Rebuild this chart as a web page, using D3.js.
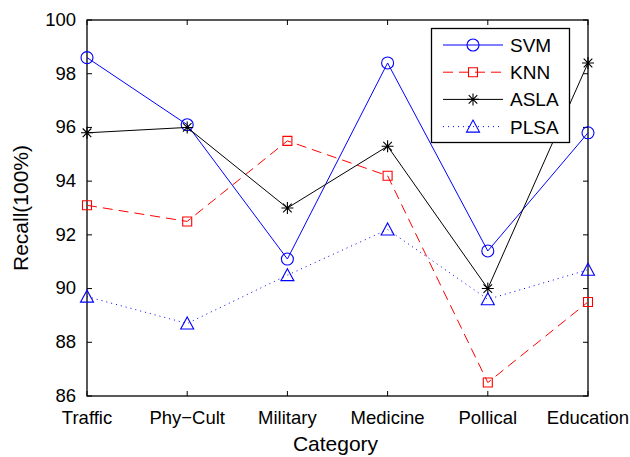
<!DOCTYPE html>
<html>
<head>
<meta charset="utf-8">
<script src="https://cdn.jsdelivr.net/npm/d3@7"></script>
<style>
  body { margin: 0; background: #fff; }
  svg { font-family: "Liberation Sans", Arial, Helvetica, sans-serif; }
</style>
</head>
<body>
<svg width="630" height="457"></svg>
<script>
  // data
  const categories = ["Traffic", "Phy\u2212Cult", "Military", "Medicine", "Pollical", "Education"];
  const svmValues  = [98.6, 96.1, 91.1, 98.4, 91.4, 95.8];
  const knnValues  = [93.1, 92.5, 95.5, 94.2, 86.5, 89.5];
  const aslaValues = [95.8, 96.0, 93.0, 95.3, 90.0, 98.4];
  const plsaValues = [89.7, 88.7, 90.5, 92.2, 89.6, 90.7];
  const yTicks = [86, 88, 90, 92, 94, 96, 98, 100];

  const svg = d3.select("svg");

  const mLeft = 87, mRight = 588, mTop = 20, mBottom = 396;

  const x = d3.scalePoint().domain(categories).range([mLeft, mRight]);
  const y = d3.scaleLinear().domain([86, 100]).range([mBottom, mTop]);

  const series = [
    { name: "SVM",  values: svmValues,  color: "#0000ff", dash: null,  marker: "circle" },
    { name: "KNN",  values: knnValues,  color: "#ff0000", dash: "10,6", marker: "square" },
    { name: "ASLA", values: aslaValues, color: "#000000", dash: null,  marker: "star" },
    { name: "PLSA", values: plsaValues, color: "#0000ff", dash: "1,4", marker: "triangle" }
  ];

  // marker shapes, centred on 0,0
  function markerPath(type) {
    if (type === "circle") return d3.arc()({ innerRadius: 0, outerRadius: 6, startAngle: 0, endAngle: 2 * Math.PI });
    if (type === "square") return "M-4.5,-4.5H4.5V4.5H-4.5Z";
    if (type === "triangle") return "M0,-6.5L6.5,5.5H-6.5Z";
    // star = plus and cross
    const r = 6, d = 4.3;
    return `M${-r},0H${r}M0,${-r}V${r}M${-d},${-d}L${d},${d}M${-d},${d}L${d},${-d}`;
  }

  const line = d3.line()
    .x((d, i) => x(categories[i]))
    .y(d => y(d));

  // axes frame
  svg.append("rect")
    .attr("x", mLeft).attr("y", mTop)
    .attr("width", mRight - mLeft).attr("height", mBottom - mTop)
    .attr("fill", "none").attr("stroke", "#000").attr("stroke-width", 1.3);

  // ticks on all four sides, pointing inward
  const tl = 5;
  yTicks.forEach(t => {
    svg.append("line").attr("x1", mLeft).attr("x2", mLeft + tl).attr("y1", y(t)).attr("y2", y(t)).attr("stroke", "#000");
    svg.append("line").attr("x1", mRight).attr("x2", mRight - tl).attr("y1", y(t)).attr("y2", y(t)).attr("stroke", "#000");
    svg.append("text")
      .attr("x", mLeft - 11).attr("y", y(t) + 1)
      .attr("text-anchor", "end").attr("dominant-baseline", "middle")
      .attr("font-size", 18.5).text(t);
  });
  categories.forEach(c => {
    svg.append("line").attr("x1", x(c)).attr("x2", x(c)).attr("y1", mBottom).attr("y2", mBottom - tl).attr("stroke", "#000");
    svg.append("line").attr("x1", x(c)).attr("x2", x(c)).attr("y1", mTop).attr("y2", mTop + tl).attr("stroke", "#000");
    svg.append("text")
      .attr("x", x(c)).attr("y", 424)
      .attr("text-anchor", "middle")
      .attr("font-size", 18.5).text(c);
  });

  // axis titles
  svg.append("text")
    .attr("x", (mLeft + mRight) / 2 - 2).attr("y", 451)
    .attr("text-anchor", "middle").attr("font-size", 21).text("Category");
  svg.append("text")
    .attr("transform", `translate(28,${(mTop + mBottom) / 2}) rotate(-90)`)
    .attr("text-anchor", "middle").attr("font-size", 21).text("Recall(100%)");

  // lines and markers
  series.forEach(s => {
    svg.append("path")
      .attr("d", line(s.values))
      .attr("fill", "none")
      .attr("stroke", s.color)
      .attr("stroke-width", 1)
      .attr("stroke-dasharray", s.dash);
    svg.selectAll(null)
      .data(s.values)
      .enter()
      .append("path")
      .attr("transform", (d, i) => `translate(${x(categories[i])},${y(d)})`)
      .attr("d", markerPath(s.marker))
      .attr("fill", "none")
      .attr("stroke", s.color)
      .attr("stroke-width", 1.1);
  });

  // legend
  const lg = svg.append("g");
  lg.append("rect")
    .attr("x", 431.5).attr("y", 28.5)
    .attr("width", 138).attr("height", 114)
    .attr("fill", "#fff").attr("stroke", "#000").attr("stroke-width", 1.3);
  series.forEach((s, i) => {
    const ly = 45 + i * 27.2;
    lg.append("line")
      .attr("x1", 443).attr("x2", 503).attr("y1", ly).attr("y2", ly)
      .attr("stroke", s.color).attr("stroke-width", 1)
      .attr("stroke-dasharray", s.dash);
    lg.append("path")
      .attr("transform", `translate(473,${ly})`)
      .attr("d", markerPath(s.marker))
      .attr("fill", "none").attr("stroke", s.color).attr("stroke-width", 1.1);
    lg.append("text")
      .attr("x", 510).attr("y", ly + 7)
      .attr("font-size", 19).text(s.name);
  });
</script>
</body>
</html>
